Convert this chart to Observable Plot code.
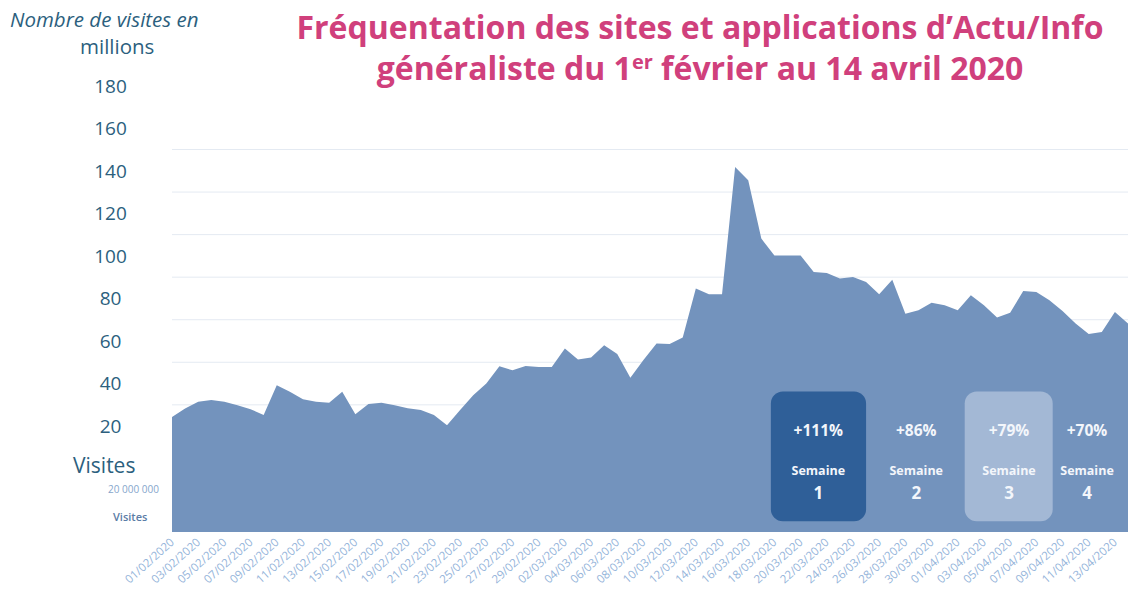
<!DOCTYPE html>
<html><head><meta charset="utf-8">
<script src="https://cdn.jsdelivr.net/npm/d3@7"></script>
<script src="https://cdn.jsdelivr.net/npm/@observablehq/plot@0.6"></script>
<style>
body{margin:0;background:#fff;font-family:"Open Sans",sans-serif}
#wrap{position:relative;width:1134px;height:603px;overflow:hidden;background:#fff}
#wrap svg{position:absolute;left:0;top:0;display:block}
.t{position:absolute;white-space:nowrap;line-height:1.2;z-index:2}
#title{left:200px;width:1000px;top:6px;text-align:center;color:#d0407c;font-weight:700;font-size:32px;line-height:41px}
#title sup{font-size:20px;vertical-align:11px;line-height:0}
#ylab1{left:10px;top:7px;font-size:20.5px;color:#2c5f7e;font-style:italic}
#ylab2{left:80px;top:34px;font-size:20.5px;color:#2c5f7e}
#vis1{left:73px;top:453px;font-size:21px;color:#2c5f7e}
#vis2{left:113px;top:510px;font-size:11px;color:#5a7ca6;font-weight:600}
</style></head><body><div id="wrap">
<div class="t" id="title">Fréquentation des sites et applications d’Actu/Info<br>généraliste du 1<sup>er</sup> février au 14 avril 2020</div>
<div class="t" id="ylab1">Nombre de visites en</div>
<div class="t" id="ylab2">millions</div>
<div class="t" id="vis1">Visites</div>
<div class="t" id="vis2">Visites</div>
</div>
<script>
// Daily visits (millions), 01/02/2020 → 14/04/2020
const startDate = "2020-02-01";
const endDate = "2020-04-14";
const visits = [
  54, 58, 61.2, 62, 61.2, 59.6, 57.7, 55, 69, 65.9,
  62.4, 61.2, 60.7, 65.9, 55.3, 60.1, 60.7, 59.6, 58.2, 57.3,
  55, 50.2, 57.3, 64.3, 69.8, 77.9, 76, 78, 77.6, 77.5,
  86.2, 81.1, 82, 87.8, 83.6, 72.5, 80.8, 88.6, 88.3, 91.4,
  114.4, 111.7, 111.7, 171.5, 165.3, 137.9, 130, 130, 130, 122.2,
  121.7, 119.1, 119.9, 117.5, 111.7, 118.6, 102.6, 104.2, 107.7, 106.6,
  104.2, 111.3, 106.6, 100.8, 103, 113.3, 112.8, 108.9, 103.9, 98,
  93, 94, 103.4, 98
];
const yTicks = [20, 40, 60, 80, 100, 120, 140, 160, 180];
const yTicksOriginal = [20];

// Weekly growth annotations
const weekPct = ["+111%", "+86%", "+79%", "+70%"];
const weekNum = ["1", "2", "3", "4"];
const weekWord = "Semaine";
const weekMid = ["2020-03-21T07:30Z", "2020-03-28T19:00Z", "2020-04-04T21:00Z", "2020-04-10T20:00Z"];
const boxStart = ["2020-03-17T17:30Z", "2020-04-01T12:45Z"];
const boxEnd = ["2020-03-25T00:00Z", "2020-04-08T06:00Z"];
const boxRange = [5, 66];

const dates = d3.utcDay.range(new Date(startDate), d3.utcDay.offset(new Date(endDate), 1));
const data = dates.map((d, i) => ({date: d, v: visits[i]}));
const xTicks = dates.filter((d, i) => i % 2 === 0);
const weeks = weekPct.map((p, i) => ({pct: p, num: weekNum[i], mid: new Date(weekMid[i])}));
const boxes = boxStart.map((s, i) => ({x1: new Date(s), x2: new Date(boxEnd[i])}));
const fmt = d3.utcFormat("%d/%m/%Y");

const chart = Plot.plot({
  width: 1134, height: 603,
  marginLeft: 172, marginRight: 6, marginTop: 149, marginBottom: 71,
  style: {background: "transparent", fontFamily: "Open Sans, sans-serif"},
  x: {type: "utc", domain: [dates[0], dates[dates.length - 1]]},
  y: {domain: [0, 180]},
  marks: [
    Plot.gridY(yTicks, {stroke: "#e4eaf2", strokeOpacity: 1}),
    Plot.areaY(data, {x: "date", y: "v", fill: "#7393bd"}),
    Plot.rect(boxes, {x1: "x1", x2: "x2", y1: boxRange[0], y2: boxRange[1], fill: ["#2f5f98", "#a3b8d5"], rx: 12}),
    Plot.text(weeks, {x: "mid", y: 47.9, text: "pct", fill: "#f3f6fb", fontSize: 15.5, fontWeight: 700}),
    Plot.text(weeks, {x: "mid", y: 29.1, text: () => weekWord, fill: "#f3f6fb", fontSize: 12.5, fontWeight: 700}),
    Plot.text(weeks, {x: "mid", y: 18.3, text: "num", fill: "#f3f6fb", fontSize: 17, fontWeight: 700}),
    Plot.axisX(xTicks, {tickSize: 0, tickPadding: 8, tickRotate: -42, tickFormat: fmt, fontSize: 11.5, fill: "#94b4da", label: null}),
    Plot.axisY(yTicks, {tickSize: 0, tickPadding: 0, dx: -62, dy: -63, textAnchor: "middle", fontSize: 19, fill: "#2c5f7e", label: null}),
    Plot.axisY(yTicksOriginal, {tickSize: 0, tickPadding: 0, dx: -39, textAnchor: "middle", fontSize: 10, fill: "#86a6cc", label: null,
      tickFormat: d => d3.format(",")(d * 1e6).replace(/,/g, " ")})
  ]
});
document.getElementById("wrap").appendChild(chart);
</script>
</body></html>
